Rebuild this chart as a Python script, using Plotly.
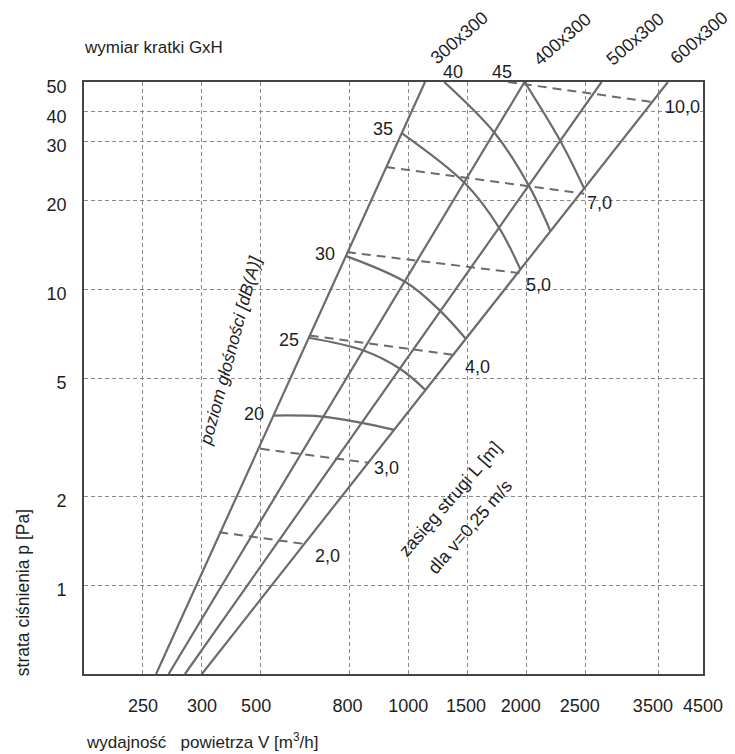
import plotly.graph_objects as go

# ---------------- data (in the chart's own grid units) ----------------
# x axis: grid index u (one grid cell = 1), labelled with V [m3/h]
x_tick_text = ["250", "300", "500", "800", "1000", "1500", "2000", "2500", "3500", "4500"]
x_grid_u = [1, 2, 3, 4.5, 5.5, 6.5, 7.5, 8.5, 9.75, 10.5]
x_label_u = [1.0, 2.0, 2.92, 4.47, 5.5, 6.48, 7.41, 8.41, 9.65, 10.5]

# y axis: grid index w (one half-cell = 1), labelled with p [Pa]
y_tick_text = ["1", "2", "5", "10", "20", "30", "40", "50"]
y_grid_w = [3, 6, 10, 13, 16, 18, 19, 20]

# grille size lines: (u at bottom w=0, u at top w=20)
sizes = ["300x300", "400x300", "500x300", "600x300"]
size_u_bottom = [1.223, 1.436, 1.713, 2.000]
size_u_top = [5.784, 7.473, 8.779, 9.905]

# noise level curves dB(A): crossing points with the size lines
noise_levels = ["20", "25", "30", "35", "40", "45"]
noise_u = [
    [3.209, 4.037, 4.713, 5.260],
    [3.812, 4.742, 5.361, 5.801],
    [4.449, 5.473, 6.047, 6.476],
    [5.389, 6.459, 7.034, 7.405],
    [6.110, 6.966, 7.546, 7.912],
    [7.473, 8.074, 8.486],
]
noise_w = [
    [8.732, 8.698, 8.486, 8.249],
    [11.359, 10.930, 10.311, 9.578],
    [14.118, 13.218, 12.258, 11.325],
    [18.276, 16.586, 15.098, 13.658],
    [20.000, 18.276, 16.498, 14.963],
    [20.000, 18.029, 16.396],
]

# throw length L [m] lines (dashed)
throw_levels = ["2,0", "3,0", "4,0", "5,0", "7,0", "10,0"]
throw_u = [[2.292, 3.740], [2.997, 4.838], [3.829, 6.262],
           [4.459, 7.389], [5.125, 8.486], [7.191, 9.640]]
throw_w = [[4.787, 4.395], [7.607, 7.133], [11.437, 10.784],
           [14.253, 13.543], [17.127, 16.227], [20.000, 19.324]]

# ---------------- styling / label placement ----------------
FONT = "Liberation Sans, Arial, sans-serif"
LINE_COL = "#6b6b6b"
TXT = "#1e1e1e"
GRID = "#8a8a8a"
X_RANGE = [0, 10.5]
Y_RANGE = [0, 20]

noise_label_pos = [(2.883, 8.79), (3.475, 11.30), (4.083, 14.175),
                   (5.068, 18.425), (6.262, 20.33), (7.095, 20.33)]
throw_label_pos = [(4.138, 3.976), (5.135, 6.964), (6.672, 10.365),
                   (7.715, 13.127), (8.740, 15.909), (10.147, 19.155)]
size_label_pos = [(6.363, 21.48), (8.120, 21.44), (9.353, 21.44), (10.434, 21.47)]


def label(x, y, text, **kw):
    """Annotation in axis units; positions outside the axis ranges go via paper refs."""
    inside = X_RANGE[0] <= x <= X_RANGE[1] and Y_RANGE[0] <= y <= Y_RANGE[1]
    d = dict(text=text, showarrow=False, xanchor="center", yanchor="middle",
             font=dict(size=18, color=TXT))
    if inside:
        d.update(x=x, y=y, xref="x", yref="y")
    else:
        d.update(x=(x - X_RANGE[0]) / (X_RANGE[1] - X_RANGE[0]),
                 y=(y - Y_RANGE[0]) / (Y_RANGE[1] - Y_RANGE[0]),
                 xref="paper", yref="paper")
    d.update(kw)
    return d


fig = go.Figure()

for name, ub, ut in zip(sizes, size_u_bottom, size_u_top):
    fig.add_trace(go.Scatter(x=[ub, ut], y=Y_RANGE, mode="lines", name=name,
                             line=dict(color=LINE_COL, width=2.2),
                             showlegend=False, hoverinfo="skip"))

for name, us, ws in zip(noise_levels, noise_u, noise_w):
    fig.add_trace(go.Scatter(x=us, y=ws, mode="lines", name=name + " dB(A)",
                             line=dict(color=LINE_COL, width=2.2, shape="spline", smoothing=1.0),
                             showlegend=False, hoverinfo="skip"))

for name, us, ws in zip(throw_levels, throw_u, throw_w):
    fig.add_trace(go.Scatter(x=us, y=ws, mode="lines", name="L=" + name,
                             line=dict(color=LINE_COL, width=2.0, dash="9px,6px"),
                             showlegend=False, hoverinfo="skip"))

ann = []
for t, (x, y) in zip(noise_levels, noise_label_pos):
    ann.append(label(x, y, t))
for t, (x, y) in zip(throw_levels, throw_label_pos):
    ann.append(label(x, y, t))
for t, (x, y) in zip(sizes, size_label_pos):
    ann.append(label(x, y, t, textangle=-41))

ann.append(label(2.49, 10.93, "<i>poziom głośności [dB(A)]</i>", textangle=-75,
                 font=dict(size=17.5, color=TXT)))
ann.append(label(6.206, 5.926, "zasięg strugi L [m]", textangle=-49))
ann.append(label(6.544, 4.98, "dla v=0,25 m/s", textangle=-49))

ann.append(dict(xref="paper", yref="paper", x=-0.003, y=1.059, xanchor="left", yanchor="middle",
                text="wymiar kratki GxH", showarrow=False, font=dict(size=17, color=TXT)))
ann.append(dict(xref="paper", yref="paper", x=0.0, y=-0.113, xanchor="left", yanchor="middle",
                text="wydajność\u00a0\u00a0 powietrza V [m<sup>3</sup>/h]", showarrow=False,
                font=dict(size=17, color=TXT)))
ann.append(dict(xref="paper", yref="paper", x=-0.098, y=0.137, xanchor="center", yanchor="middle",
                text="strata ciśnienia p [Pa]", showarrow=False, textangle=-90,
                font=dict(size=17.5, color=TXT)))

fig.update_layout(
    width=735, height=754,
    margin=dict(l=84, r=29, t=82, b=80),
    paper_bgcolor="white", plot_bgcolor="white",
    font=dict(family=FONT, color=TXT),
    annotations=ann,
    showlegend=False,
)
fig.update_xaxes(
    range=X_RANGE, tickmode="array", tickvals=x_label_u, ticktext=x_tick_text,
    showgrid=False, zeroline=False, ticks="", ticklabelstandoff=15,
    tickfont=dict(size=18, color=TXT),
    showline=True, linecolor="#444", linewidth=1.6, mirror=True,
    minor=dict(tickmode="array", tickvals=x_grid_u, showgrid=True, gridcolor=GRID,
               gridwidth=1, griddash="4px,3px", ticks=""),
)
fig.update_yaxes(
    range=Y_RANGE, tickmode="array", tickvals=[w - 0.16 for w in y_grid_w], ticktext=y_tick_text,
    showgrid=False, zeroline=False, ticks="", ticklabelstandoff=12,
    tickfont=dict(size=18, color=TXT),
    showline=True, linecolor="#444", linewidth=1.6, mirror=True,
    minor=dict(tickmode="array", tickvals=y_grid_w, showgrid=True, gridcolor=GRID,
               gridwidth=1, griddash="4px,3px", ticks=""),
)

fig.write_html("out.html", config={"displayModeBar": False},
               post_script="document.body.style.margin='0';document.body.style.padding='0';")
